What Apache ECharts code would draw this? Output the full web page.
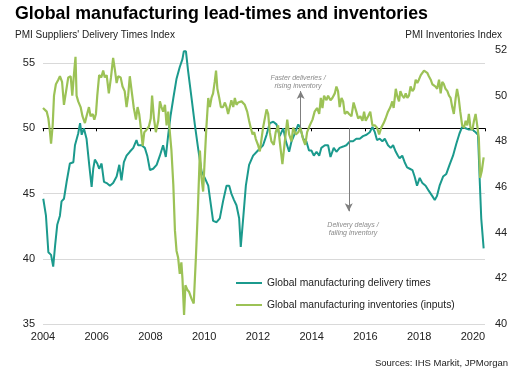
<!DOCTYPE html>
<html>
<head>
<meta charset="utf-8">
<script src="https://cdn.jsdelivr.net/npm/echarts@6/dist/echarts.min.js"></script>
<style>
  html, body { margin: 0; padding: 0; background: #fff; }
  #chart { width: 528px; height: 376px; }
</style>
</head>
<body>
<div id="chart"></div>
<script>
// PMI Suppliers' Delivery Times Index (left axis)
var deliveryDates = [2004.01, 2004.11, 2004.20, 2004.30, 2004.38, 2004.45, 2004.53, 2004.63, 2004.69, 2004.78, 2004.88,
    2005.00, 2005.13, 2005.19, 2005.31, 2005.38, 2005.44, 2005.52, 2005.62, 2005.72, 2005.81, 2005.87, 2005.93,
    2006.02, 2006.09, 2006.18, 2006.27, 2006.37, 2006.49, 2006.61, 2006.74, 2006.84, 2006.92,
    2007.01, 2007.11, 2007.23, 2007.36, 2007.48, 2007.54, 2007.67, 2007.79, 2007.88, 2007.98,
    2008.10, 2008.23, 2008.35, 2008.47, 2008.57, 2008.66, 2008.75, 2008.85, 2008.97,
    2009.09, 2009.19, 2009.24, 2009.32, 2009.40, 2009.53, 2009.65, 2009.77, 2009.90,
    2010.02, 2010.15, 2010.23, 2010.33, 2010.46, 2010.58, 2010.70, 2010.83, 2010.93,
    2011.01, 2011.11, 2011.20, 2011.30, 2011.36, 2011.45, 2011.55, 2011.67, 2011.82, 2012.00,
    2012.07, 2012.19, 2012.32, 2012.44, 2012.57, 2012.69, 2012.81, 2012.94,
    2013.04, 2013.16, 2013.25, 2013.37, 2013.50, 2013.58, 2013.68, 2013.80, 2013.90, 2013.99,
    2014.08, 2014.18, 2014.28, 2014.36, 2014.49, 2014.61, 2014.70, 2014.82, 2014.92,
    2015.04, 2015.17, 2015.29, 2015.42, 2015.54, 2015.66, 2015.79, 2015.91,
    2016.04, 2016.16, 2016.26, 2016.35, 2016.43, 2016.53, 2016.63, 2016.72, 2016.84, 2016.94,
    2017.03, 2017.13, 2017.21, 2017.27, 2017.37, 2017.46, 2017.55, 2017.65, 2017.75, 2017.83, 2017.92,
    2018.02, 2018.12, 2018.24, 2018.36, 2018.49, 2018.58, 2018.66, 2018.76, 2018.89,
    2019.01, 2019.13, 2019.26, 2019.38, 2019.50, 2019.60, 2019.73, 2019.85, 2019.98,
    2020.10, 2020.19, 2020.25, 2020.31, 2020.40];
var deliveryValues = [44.6, 43.3, 40.5, 40.3, 39.4, 41.0, 42.6, 43.3, 44.4, 44.6, 45.9,
    47.3, 47.4, 48.7, 49.6, 50.4, 49.5, 50.0, 49.2, 47.2, 45.5, 46.9, 47.6,
    47.3, 46.9, 47.3, 45.9, 45.8, 45.6, 45.8, 46.3, 47.2, 46.0,
    47.4, 47.9, 48.2, 48.5, 49.1, 48.7, 48.7, 48.5, 47.9, 46.8,
    46.9, 47.2, 47.9, 48.7, 47.8, 49.5, 51.0, 52.3, 53.8,
    54.7, 55.3, 55.9, 55.9, 54.4, 52.3, 50.3, 48.5, 46.7,
    46.2, 45.6, 44.4, 42.9, 42.8, 43.1, 44.4, 45.6, 45.6,
    45.0, 44.5, 44.1, 43.1, 40.9, 43.1, 45.6, 47.2, 47.9, 48.3,
    48.3, 48.7, 49.5, 50.4, 50.5, 50.3, 49.4, 50.0,
    49.0, 48.2, 49.0, 49.6, 50.3, 50.0, 49.2, 49.0, 48.3, 48.3,
    47.9, 48.2, 47.9, 48.5, 48.7, 48.7, 47.8, 48.5, 48.2,
    48.5, 48.6, 48.7, 49.0, 49.0, 49.2, 49.2, 49.4,
    49.5, 49.7, 50.1, 49.7, 49.1, 49.2, 49.0, 49.2, 48.7, 48.5,
    48.7, 48.2, 47.9, 47.7, 47.9, 47.4, 47.0, 46.9, 46.8, 46.3, 45.6,
    46.2, 45.8, 45.6, 45.2, 44.8, 44.5, 44.8, 45.6, 46.3,
    46.5, 47.2, 47.9, 48.8, 49.6, 50.1, 50.0, 49.9, 49.9,
    49.7, 49.5, 46.2, 43.1, 40.8];

// PMI Inventories Index (right axis)
var inventoryDates = [2004.00, 2004.07, 2004.14, 2004.20, 2004.26, 2004.30, 2004.36, 2004.41, 2004.48, 2004.57, 2004.63, 2004.71, 2004.78, 2004.86, 2004.94,
    2005.03, 2005.09, 2005.15, 2005.21, 2005.25, 2005.31, 2005.40, 2005.47, 2005.56, 2005.62, 2005.71, 2005.77, 2005.85, 2005.91, 2005.97,
    2006.02, 2006.09, 2006.17, 2006.24, 2006.30, 2006.37, 2006.45, 2006.53, 2006.61, 2006.68, 2006.74, 2006.80, 2006.89, 2006.96,
    2007.04, 2007.11, 2007.17, 2007.23, 2007.30, 2007.38, 2007.46, 2007.52, 2007.58, 2007.64, 2007.71, 2007.77, 2007.85, 2007.94,
    2008.01, 2008.06, 2008.13, 2008.20, 2008.29, 2008.35, 2008.41, 2008.47, 2008.54, 2008.60, 2008.66, 2008.72, 2008.78, 2008.85, 2008.91, 2008.97,
    2009.03, 2009.09, 2009.15, 2009.19, 2009.25, 2009.30, 2009.37, 2009.44, 2009.53, 2009.61, 2009.69, 2009.76, 2009.84, 2009.90, 2009.96,
    2010.01, 2010.08, 2010.15, 2010.21, 2010.27, 2010.33, 2010.39, 2010.44, 2010.49, 2010.56, 2010.62, 2010.70, 2010.77, 2010.83, 2010.89, 2010.95,
    2011.01, 2011.08, 2011.14, 2011.20, 2011.26, 2011.39, 2011.51, 2011.60, 2011.67, 2011.73, 2011.80, 2011.86, 2011.92, 2012.00,
    2012.07, 2012.19, 2012.32, 2012.38, 2012.44, 2012.50, 2012.59, 2012.66, 2012.75, 2012.81, 2012.91,
    2013.00, 2013.09, 2013.16, 2013.25, 2013.31, 2013.41, 2013.50, 2013.58, 2013.68, 2013.76, 2013.83, 2013.93,
    2014.03, 2014.11, 2014.20, 2014.28, 2014.34, 2014.40, 2014.46, 2014.55, 2014.61, 2014.70, 2014.77, 2014.86, 2014.92, 2014.98,
    2015.04, 2015.11, 2015.17, 2015.23, 2015.32, 2015.39, 2015.48, 2015.56, 2015.66, 2015.73, 2015.81, 2015.89, 2015.95,
    2016.01, 2016.10, 2016.18, 2016.26, 2016.35, 2016.43, 2016.51, 2016.59, 2016.68, 2016.75, 2016.84, 2016.93,
    2017.00, 2017.05, 2017.13, 2017.18, 2017.25, 2017.30, 2017.37, 2017.44, 2017.50, 2017.56, 2017.62, 2017.68, 2017.75, 2017.81, 2017.87, 2017.93, 2017.99,
    2018.06, 2018.12, 2018.18, 2018.24, 2018.30, 2018.36, 2018.43, 2018.49, 2018.55, 2018.61, 2018.67, 2018.74, 2018.80, 2018.86, 2018.92, 2018.98,
    2019.05, 2019.11, 2019.17, 2019.23, 2019.29, 2019.36, 2019.41, 2019.47, 2019.53, 2019.60, 2019.67, 2019.73, 2019.79, 2019.85, 2019.91, 2019.98,
    2020.04, 2020.10, 2020.16, 2020.22, 2020.27, 2020.33, 2020.40];
var inventoryValues = [49.46, 49.53, 49.3, 49.0, 48.4, 47.9, 48.7, 50.0, 50.5, 50.7, 50.85, 50.6, 49.6, 50.2, 50.8,
    50.85, 50.0, 50.9, 51.7, 50.0, 49.75, 49.5, 49.1, 48.8, 49.1, 49.5, 49.1, 49.2, 48.95, 49.2,
    50.0, 50.9, 50.8, 51.1, 50.8, 50.9, 50.1, 50.8, 51.65, 51.1, 50.55, 50.85, 50.8, 50.4,
    50.2, 49.5, 50.0, 50.85, 50.2, 49.46, 48.95, 49.5, 49.2, 48.6, 47.8, 48.4, 48.5, 48.65,
    49.0, 50.0, 49.0, 48.4, 48.9, 49.75, 49.5, 49.3, 49.6, 48.7, 49.3, 48.4, 47.6, 46.1, 44.1, 43.2,
    42.9, 42.2, 42.7, 42.0, 40.4, 41.7, 41.5, 41.4, 41.1, 40.9, 42.9, 44.9, 47.6, 46.4, 45.8,
    47.0, 48.6, 49.9, 49.5, 49.9, 50.1, 50.6, 51.1, 50.3, 49.9, 49.5, 49.5, 49.7, 49.5, 49.2, 49.2,
    49.8, 49.5, 49.9, 49.6, 49.7, 49.75, 49.6, 49.3, 48.9, 48.6, 48.3, 48.4, 48.1, 47.85,
    47.56, 48.6, 49.4, 49.2, 48.4, 48.0, 47.85, 48.4, 48.7, 48.0, 47.0,
    48.0, 48.95, 48.3, 48.0, 48.6, 48.3, 48.4, 48.6, 48.1, 47.85, 48.4, 48.7,
    48.95, 49.3, 49.46, 49.2, 49.9, 49.46, 50.0, 49.8, 50.0, 49.8, 49.9, 50.1, 50.4, 50.2,
    49.5, 49.9, 49.75, 49.2, 49.3, 49.2, 49.1, 49.7, 49.3, 49.0, 49.1, 48.9, 49.3,
    48.9, 49.1, 49.3, 48.7, 48.7, 48.6, 48.3, 48.6, 48.8, 49.0, 49.3, 49.5,
    49.75, 49.46, 50.3, 50.0, 49.75, 50.2, 50.0, 49.9, 50.1, 49.9, 50.0, 50.4, 50.2, 50.3, 50.7, 50.55, 50.7,
    50.9, 50.85, 51.1, 51.1, 51.0, 50.85, 50.7, 50.5, 50.55, 50.4, 50.3, 50.7, 50.1, 50.6, 50.5, 50.3,
    50.2, 50.0, 49.9, 49.5, 49.2, 49.9, 50.3, 49.9, 49.3, 48.7, 48.6, 48.9, 48.7, 49.2, 48.6, 48.5,
    48.9, 49.2, 48.7, 48.15, 46.4, 46.7, 47.3];

var yearTicks = [2004, 2006, 2008, 2010, 2012, 2014, 2016, 2018, 2020];
var seriesNames = ['Global manufacturing delivery times', 'Global manufacturing inventories (inputs)'];

var FONT = 'Liberation Sans, Arial, sans-serif';
var tealColor = '#1b9a8d';
var greenColor = '#9cc256';

function zip(xs, ys) {
    var out = [];
    for (var i = 0; i < xs.length; i++) {
        out.push([xs[i], ys[i]]);
    }
    return out;
}

function note(x, y, text) {
    return {
        type: 'text', x: x, y: y, silent: true,
        style: { text: text, fill: '#8a8a8a', font: 'italic 7px ' + FONT, textAlign: 'center', textVerticalAlign: 'middle' }
    };
}

var myChart = echarts.init(document.getElementById('chart'), null, { renderer: 'canvas' });

var option = {
    animation: false,
    backgroundColor: '#fff',
    textStyle: { fontFamily: FONT },
    title: [
        {
            text: 'Global manufacturing lead-times and inventories',
            left: 15, top: 5, padding: 0,
            textStyle: { fontSize: 17.8, fontWeight: 'bold', color: '#000', fontFamily: FONT }
        },
        {
            text: "PMI Suppliers' Delivery Times Index",
            left: 15, top: 30, padding: 0,
            textStyle: { fontSize: 10, fontWeight: 'normal', color: '#222', fontFamily: FONT }
        },
        {
            text: 'PMI Inventories Index',
            right: 26, top: 30, padding: 0,
            textStyle: { fontSize: 10, fontWeight: 'normal', color: '#222', fontFamily: FONT }
        },
        {
            text: 'Sources: IHS Markit, JPMorgan',
            right: 20, top: 358, padding: 0,
            textStyle: { fontSize: 9.5, fontWeight: 'normal', color: '#222', fontFamily: FONT }
        }
    ],
    grid: { left: 43, right: 43, top: 50, bottom: 52, outerBoundsMode: 'none' },
    legend: {
        orient: 'vertical',
        left: 231, top: 273,
        icon: 'rect',
        itemWidth: 26, itemHeight: 2,
        itemGap: 12,
        data: seriesNames,
        textStyle: { fontSize: 10.3, color: '#222', fontFamily: FONT }
    },
    xAxis: [
        {
            type: 'value',
            min: 2004, max: 2020.45, interval: 2,
            axisLine: { show: false },
            axisTick: { show: false },
            splitLine: { show: false },
            axisLabel: {
                margin: 7, fontSize: 11, color: '#222', fontFamily: FONT,
                showMaxLabel: false,
                formatter: function (v) { return yearTicks.indexOf(v) >= 0 ? String(v) : ''; }
            }
        },
        {
            // crossing axis drawn on the 50 line, only for its small year ticks
            type: 'value', position: 'top', offset: -78.3,
            min: 2004, max: 2020.45, interval: 2,
            axisLine: { show: true, lineStyle: { color: '#000', width: 1 } },
            axisTick: { show: true, inside: true, length: 3, lineStyle: { color: '#000' } },
            axisLabel: { show: false },
            splitLine: { show: false }
        }
    ],
    yAxis: [
        {
            type: 'value', position: 'left',
            min: 35, max: 56, interval: 5,
            axisLine: { show: false }, axisTick: { show: false },
            axisLabel: { margin: 8, fontSize: 11, color: '#222', fontFamily: FONT, showMaxLabel: false },
            splitLine: {
                show: true, showMaxLine: false,
                lineStyle: { color: ['#d9d9d9', '#d9d9d9', '#d9d9d9', 'rgba(0,0,0,0)', '#d9d9d9', 'rgba(0,0,0,0)'], width: 1 }
            }
        },
        {
            type: 'value', position: 'right',
            min: 40, max: 52, interval: 2,
            axisLine: { show: false }, axisTick: { show: false },
            axisLabel: { margin: 10, fontSize: 11, color: '#222', fontFamily: FONT },
            splitLine: { show: false }
        }
    ],
    graphic: [
        note(298, 78, 'Faster deliveries /'),
        note(298, 86, 'rising inventory'),
        note(353, 225, 'Delivery delays /'),
        note(353, 233, 'falling inventory')
    ],
    series: [
        {
            name: seriesNames[0],
            type: 'line',
            xAxisIndex: 0, yAxisIndex: 0,
            data: zip(deliveryDates, deliveryValues),
            showSymbol: false,
            lineStyle: { color: tealColor, width: 2 },
            itemStyle: { color: tealColor },
            markLine: {
                silent: true,
                symbol: 'none',
                label: { show: false },
                lineStyle: { color: '#7f7f7f', width: 1, type: 'solid' },
                data: [
                    [{ coord: [2013.59, 50], symbol: 'none' }, { coord: [2013.59, 52.85], symbol: 'arrow', symbolSize: [6, 8] }],
                    [{ coord: [2015.38, 50], symbol: 'none' }, { coord: [2015.38, 43.64], symbol: 'arrow', symbolSize: [6, 8] }]
                ]
            }
        },
        {
            name: seriesNames[1],
            type: 'line',
            xAxisIndex: 0, yAxisIndex: 1,
            data: zip(inventoryDates, inventoryValues),
            showSymbol: false,
            lineStyle: { color: greenColor, width: 2.2 },
            itemStyle: { color: greenColor }
        }
    ]
};

myChart.setOption(option);
</script>
</body>
</html>
